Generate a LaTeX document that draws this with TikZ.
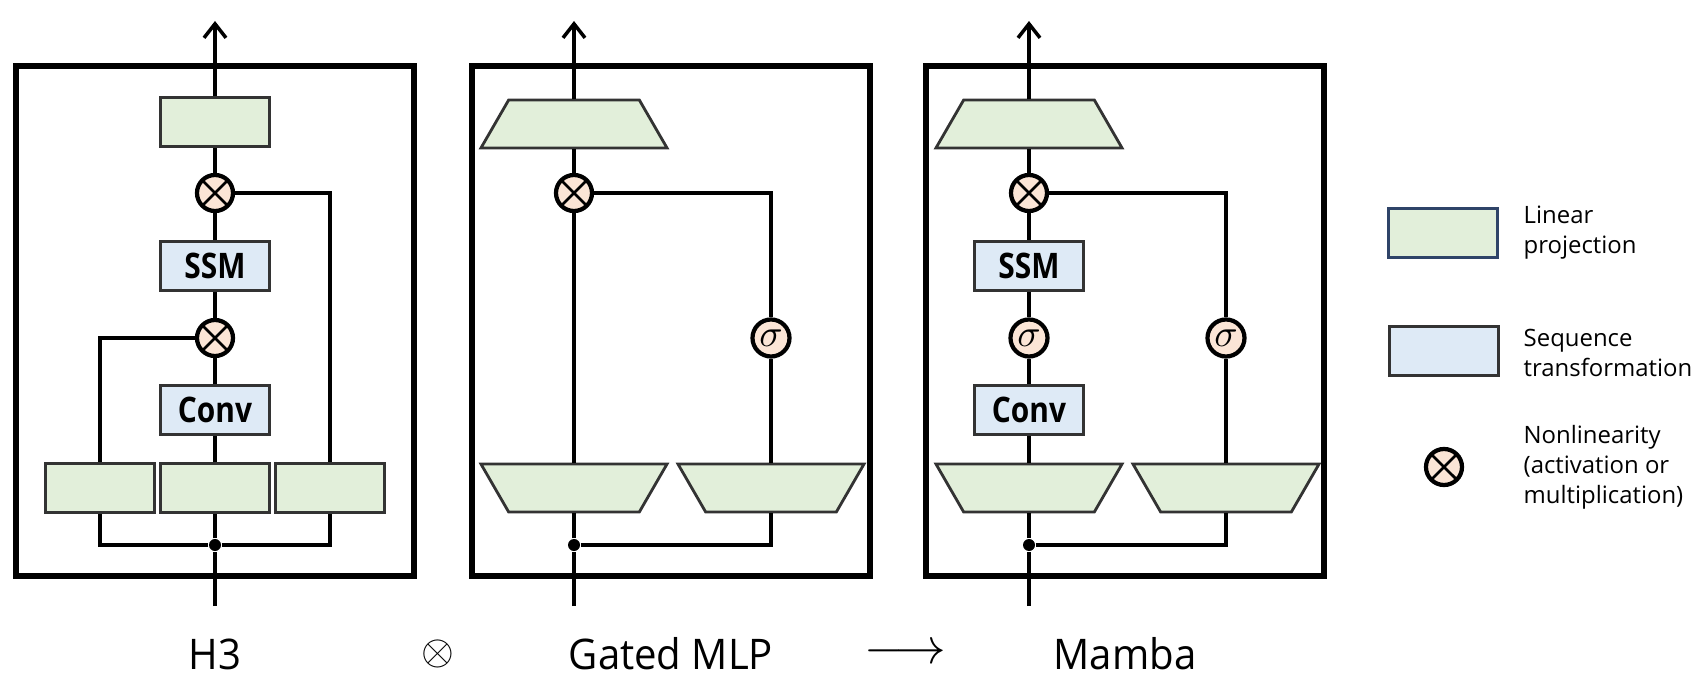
\documentclass[tikz,border=0pt]{standalone}
\usepackage{amsmath}
\usepackage{fontspec}
\setmainfont{Open Sans}
\newfontfamily\blockfont{Open Sans}[FakeStretch=0.85]
\newfontfamily\namefont{Open Sans}[FakeStretch=0.95]
\usetikzlibrary{shapes.geometric,calc,positioning,arrows.meta}
\definecolor{linfill}{HTML}{E2EFDA}
\definecolor{seqfill}{HTML}{DEEAF6}
\definecolor{opfill}{HTML}{FBE5D6}
\definecolor{edgegray}{HTML}{333333}
\definecolor{legnavy}{HTML}{2F4468}
\tikzset{
	panel/.style={draw=black,line width=1.5pt},
	wire/.style={draw=black,line width=1pt},
	outarrow/.style={-{Straight Barb[length=1.4mm,width=2.2mm]}},
	linbox/.style={draw=edgegray,fill=linfill,line width=0.8pt,minimum width=1.09cm,minimum height=0.49cm,inner sep=0pt},
	seqbox/.style={draw=edgegray,fill=seqfill,line width=0.9pt,minimum width=1.09cm,minimum height=0.49cm,inner sep=0pt,font=\blockfont\bfseries\fontsize{10}{10}\selectfont},
	widen/.style={trapezium,trapezium angle=60,trapezium stretches body,draw=edgegray,fill=linfill,line width=0.8pt,minimum width=1.86cm,inner xsep=0pt,inner ysep=0.24cm},
	narrow/.style={widen,shape border rotate=180},
	prod/.style={circle,draw=black,fill=opfill,line width=1.2pt,minimum size=0.36cm,inner sep=0pt,
		path picture={\draw[line width=0.8pt] (path picture bounding box.north west) -- (path picture bounding box.south east) (path picture bounding box.south west) -- (path picture bounding box.north east);}},
	act/.style={circle,draw=black,fill=opfill,line width=1.2pt,minimum size=0.37cm,inner sep=0pt,font=\fontsize{11}{11}\selectfont},
	joint/.style={circle,fill=black,inner sep=0pt,minimum size=0.12cm},
	title/.style={font=\namefont\fontsize{12}{12}\selectfont},
	legtext/.style={align=left,anchor=west,inner sep=0pt,font=\fontsize{6.8}{8.5}\selectfont}
}
\begin{document}
\begin{tikzpicture}[x=0.01cm,y=-0.01cm]
\useasboundingbox (0,0) rectangle (1702,688);
\begin{scope}[shift={(215,0)}]
	\draw[panel] (-199,66) rectangle (199,576);
	\node[linbox] (h-top) at (0,122) {};
	\node[prod] (h-x1) at (0,193) {};
	\node[seqbox] (h-ssm) at (0,266) {SSM};
	\node[prod] (h-x2) at (0,338) {};
	\node[seqbox] (h-conv) at (0,410) {Conv};
	\node[linbox] (h-mid) at (0,488) {};
	\node[linbox] (h-left) at (-115,488) {};
	\node[linbox] (h-right) at (115,488) {};
	\node[joint] (h-dot) at (0,545) {};
	\coordinate (h-in) at (0,606);
	\coordinate (h-out) at (0,21);
	\draw[wire] (h-in) -- (h-dot) -- (h-mid) -- (h-conv) -- (h-x2) -- (h-ssm) -- (h-x1) -- (h-top);
	\draw[wire,outarrow] (h-top) -- (h-out);
	\draw[wire] (h-left) |- (h-x2);
	\draw[wire] (h-right) |- (h-x1);
	\draw[wire] (h-dot) -| (h-left);
	\draw[wire] (h-dot) -| (h-right);
	\node[title] (h-name) at (0,654) {H3};
\end{scope}
\node[title] (join) at (438,654) {$\otimes$};
\begin{scope}[shift={(574,0)}]
	\draw[panel] (-102,66) rectangle (296,576);
	\node[widen] (g-top) at (0,124) {};
	\node[prod] (g-x) at (0,193) {};
	\node[act] (g-sig) at (197,338) {$\sigma$};
	\node[narrow] (g-left) at (0,488) {};
	\node[narrow] (g-right) at (197,488) {};
	\node[joint] (g-dot) at (0,545) {};
	\coordinate (g-in) at (0,606);
	\coordinate (g-out) at (0,21);
	\draw[wire] (g-in) -- (g-dot) -- (g-left) -- (g-x) -- (g-top);
	\draw[wire,outarrow] (g-top) -- (g-out);
	\draw[wire] (g-right) -- (g-sig) |- (g-x);
	\draw[wire] (g-dot) -| (g-right);
	\node[title] (g-name) at (97,654) {Gated MLP};
\end{scope}
\node[title,font=\fontsize{14}{14}\selectfont] (lead) at (905,654) {$\longrightarrow$};
\begin{scope}[shift={(1029,0)}]
	\draw[panel] (-103,66) rectangle (295,576);
	\node[widen] (m-top) at (0,124) {};
	\node[prod] (m-x) at (0,193) {};
	\node[seqbox] (m-ssm) at (0,266) {SSM};
	\node[act] (m-sig) at (0,338) {$\sigma$};
	\node[seqbox] (m-conv) at (0,410) {Conv};
	\node[act] (m-gate) at (197,338) {$\sigma$};
	\node[narrow] (m-left) at (0,488) {};
	\node[narrow] (m-right) at (197,488) {};
	\node[joint] (m-dot) at (0,545) {};
	\coordinate (m-in) at (0,606);
	\coordinate (m-out) at (0,21);
	\draw[wire] (m-in) -- (m-dot) -- (m-left) -- (m-conv) -- (m-sig) -- (m-ssm) -- (m-x) -- (m-top);
	\draw[wire,outarrow] (m-top) -- (m-out);
	\draw[wire] (m-right) -- (m-gate) |- (m-x);
	\draw[wire] (m-dot) -| (m-right);
	\node[title] (m-name) at (96,654) {Mamba};
\end{scope}
\node[linbox,draw=legnavy] (key-lin) at (1443,233) {};
\node[legtext] (key-lin-txt) at (1523,233) {Linear\\projection};
\node[seqbox] (key-seq) at (1444,351) {};
\node[legtext] (key-seq-txt) at (1523,353) {Sequence\\transformation};
\node[prod] (key-op) at (1444,467) {};
\node[legtext] (key-op-txt) at (1523,467) {Nonlinearity\\(activation or\\multiplication)};
\end{tikzpicture}
\end{document}
